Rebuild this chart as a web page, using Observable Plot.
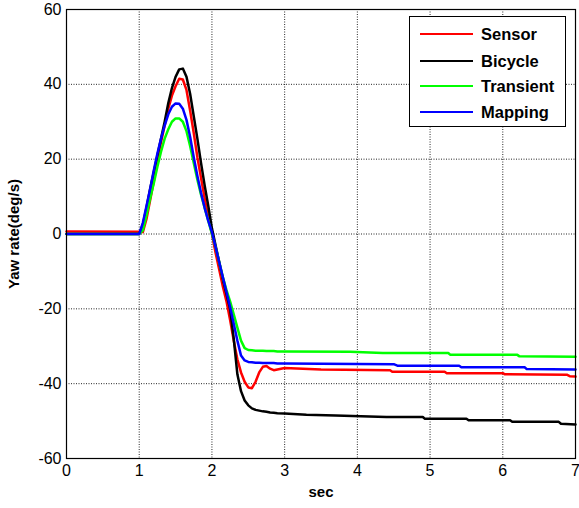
<!DOCTYPE html>
<html>
<head>
<meta charset="utf-8">
<script src="https://cdn.jsdelivr.net/npm/d3@7"></script>
<script src="https://cdn.jsdelivr.net/npm/@observablehq/plot@0.6"></script>
<style>
  html, body { margin: 0; padding: 0; background: #fff; }
  #wrap { position: relative; width: 579px; height: 508px; font-family: "Liberation Sans", Arial, sans-serif; }
  #legend { position: absolute; left: 409px; top: 16px; width: 155px; height: 109px; background: #fff; border: 1px solid #000; }
  .item { position: absolute; left: 0; height: 20px; display: flex; align-items: center; }
  .item .sw { width: 53px; height: 2.5px; margin-left: 10px; margin-right: 8px; }
  .item span { font-weight: bold; font-size: 16.5px; color: #000; }
</style>
</head>
<body>
<div id="wrap"><div id="chart"></div><div id="legend"></div></div>
<script>
// shared time grid for the transient part (sec)
const timeMain = [0, 1.0, 1.05, 1.1, 1.15, 1.2, 1.25, 1.3, 1.35, 1.4, 1.45, 1.5, 1.55, 1.6, 1.65, 1.7, 1.75, 1.8, 1.85, 1.9, 1.95, 2.0, 2.05, 2.1, 2.15, 2.2, 2.25, 2.3, 2.35, 2.4, 2.45, 2.5, 2.55, 2.6, 2.65, 2.7, 2.75, 2.8, 2.85, 2.9, 3.0];

const sensorMain = [0.7, 0.6, 0.5, 4, 9, 14, 19.5, 24.5, 29, 33.5, 37, 39.5, 41.5, 41.3, 38.5, 33, 27, 20.5, 15, 9.5, 4.5, 0, -5, -9.5, -14, -18, -23, -28.5, -33.5, -37, -39.5, -41, -41.2, -39.5, -37, -35.5, -35.3, -36, -36.4, -36.2, -35.8];
const bicycleMain = [0, 0, 2.5, 7, 12, 16.5, 21, 25.5, 30, 35, 39, 42, 44, 44.2, 42, 37.5, 31.5, 25.5, 19, 13, 7.5, 1.5, -3, -7.5, -12, -16, -20, -28, -37.5, -42, -44.5, -45.8, -46.6, -47, -47.2, -47.4, -47.5, -47.7, -47.8, -47.9, -48];
const transientMain = [0, 0, 1, 5, 9.5, 13.5, 18, 22, 25.5, 28, 30, 30.9, 30.9, 30, 27.5, 23.5, 19, 14.5, 10.5, 7, 3.5, 0, -3.5, -7.5, -11.5, -15, -18, -21.5, -25, -28.5, -30.5, -31, -31.1, -31.2, -31.2, -31.2, -31.3, -31.3, -31.3, -31.4, -31.4];
const mappingMain = [0, 0, 3, 7.5, 12, 17, 21.5, 25.5, 29, 32, 34, 34.9, 34.8, 33.5, 30.5, 26, 20.5, 15.5, 11, 7, 3.5, 0.5, -3.5, -7.5, -11.5, -15.5, -19.5, -24, -28.5, -32.5, -33.8, -34.2, -34.3, -34.4, -34.4, -34.5, -34.5, -34.5, -34.5, -34.6, -34.6];

// slowly stepping tails after 3 s
const sensorTailT = [3.5, 4.45, 4.48, 5.2, 5.23, 6.0, 6.03, 6.88, 6.92, 7];
const sensorTailY = [-36.2, -36.4, -36.8, -36.8, -37.2, -37.2, -37.5, -37.6, -38, -38.1];
const bicycleTailT = [3.3, 3.7, 4.4, 4.9, 4.93, 5.5, 5.53, 6.1, 6.13, 6.77, 6.8, 7];
const bicycleTailY = [-48.3, -48.5, -48.9, -48.9, -49.4, -49.4, -49.8, -49.8, -50.2, -50.2, -50.7, -50.9];
const transientTailT = [3.9, 4.35, 5.25, 5.28, 6.2, 6.23, 7];
const transientTailY = [-31.5, -31.8, -31.8, -32.3, -32.3, -32.7, -32.8];
const mappingTailT = [4.5, 4.55, 5.4, 5.43, 6.3, 6.33, 7];
const mappingTailY = [-34.8, -35.2, -35.2, -35.6, -35.6, -36.1, -36.2];

const seriesNames = ["Sensor", "Bicycle", "Transient", "Mapping"];
const seriesColors = ["#ff0000", "#000000", "#00ff00", "#0000ff"];
const xTicks = [0, 1, 2, 3, 4, 5, 6, 7];
const yTicks = [-60, -40, -20, 0, 20, 40, 60];

function build(name, main, tailT, tailY) {
  const rows = timeMain.map((t, i) => ({series: name, t, v: main[i]}));
  tailT.forEach((t, i) => rows.push({series: name, t, v: tailY[i]}));
  return rows;
}
const data = [
  ...build("Sensor", sensorMain, sensorTailT, sensorTailY),
  ...build("Bicycle", bicycleMain, bicycleTailT, bicycleTailY),
  ...build("Transient", transientMain, transientTailT, transientTailY),
  ...build("Mapping", mappingMain, mappingTailT, mappingTailY)
];

const fmt = d => String(d);

const chart = Plot.plot({
  width: 579,
  height: 508,
  marginLeft: 66,
  marginRight: 4,
  marginTop: 9,
  marginBottom: 50,
  style: {fontFamily: "'Liberation Sans', Arial, sans-serif", fontSize: "16px", color: "#000", background: "#fff", overflow: "visible"},
  x: {domain: [0, 7], ticks: xTicks},
  y: {domain: [-60, 60], ticks: yTicks},
  color: {domain: seriesNames, range: seriesColors},
  marks: [
    Plot.gridX(xTicks, {stroke: "#000", strokeOpacity: 0.85, strokeDasharray: "1,1.5"}),
    Plot.gridY(yTicks, {stroke: "#000", strokeOpacity: 0.85, strokeDasharray: "1,1.5"}),
    Plot.axisX(xTicks, {tickSize: 0, tickPadding: 6, label: null, fontSize: 16, tickFormat: fmt}),
    Plot.axisY(yTicks, {tickSize: 0, tickPadding: 5, label: null, fontSize: 16, tickFormat: fmt}),
    Plot.line(data, {x: "t", y: "v", z: "series", stroke: "series", strokeWidth: 2.5, curve: "linear"}),
    Plot.frame({stroke: "#000", strokeWidth: 1.2}),
    Plot.text(["Yaw rate(deg/s)"], {frameAnchor: "left", dx: -52, rotate: -90, textAnchor: "middle", fontWeight: "bold", fontSize: 15, fill: "#000"}),
    Plot.text(["sec"], {frameAnchor: "bottom", dy: 38, textAnchor: "middle", fontWeight: "bold", fontSize: 15, fill: "#000"})
  ]
});
document.getElementById("chart").appendChild(chart);

const legend = document.getElementById("legend");
const rowCenters = [17, 44, 69, 95];
seriesNames.forEach((n, i) => {
  const d = document.createElement("div");
  d.className = "item";
  d.style.top = (rowCenters[i] - 10) + "px";
  d.innerHTML = `<div class="sw" style="background:${seriesColors[i]}"></div><span>${n}</span>`;
  legend.appendChild(d);
});
</script>
</body>
</html>
